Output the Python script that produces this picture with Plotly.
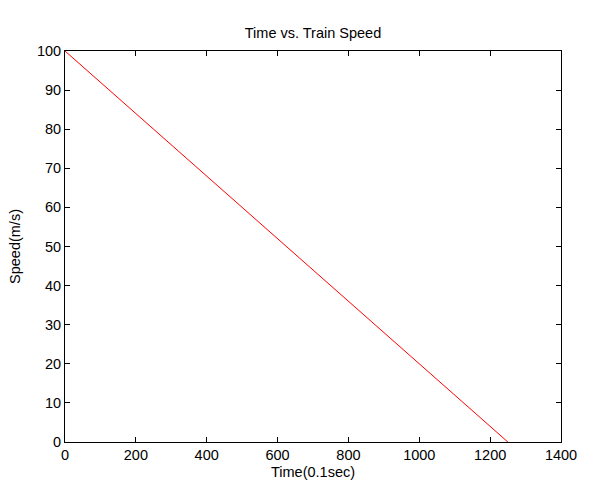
import plotly.graph_objects as go

time_s = [0, 1250]
speed = [100, 0]

FONT = "Liberation Sans, Arial"
fs = 14.5

fig = go.Figure()
fig.add_trace(go.Scatter(x=time_s, y=speed, mode="lines",
                         line=dict(color="red", width=1), showlegend=False))

axis_common = dict(showgrid=False, zeroline=False, showline=True, linecolor="black",
                   linewidth=1, mirror="ticks", ticks="inside", ticklen=5,
                   tickcolor="black", tickfont=dict(family=FONT, size=fs, color="black"))

fig.update_layout(
    width=601, height=504,
    margin=dict(l=65, r=40, t=51, b=62),
    paper_bgcolor="white", plot_bgcolor="white",
    title=dict(text="Time vs. Train Speed", xref="paper", x=0.5, xanchor="center",
               y=1 - 33/504, yanchor="middle",
               font=dict(family=FONT, size=fs, color="black")),
    xaxis=dict(range=[0, 1400], dtick=200, title=dict(text="Time(0.1sec)", standoff=4,
               font=dict(family=FONT, size=fs, color="black")), **axis_common),
    yaxis=dict(range=[0, 100], dtick=10, title=dict(text="Speed(m/s)", standoff=12,
               font=dict(family=FONT, size=fs, color="black")), **axis_common),
)

fig.write_html("out.html")
